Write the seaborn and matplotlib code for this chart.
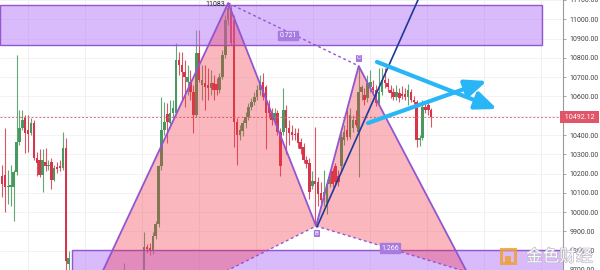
import numpy as np
import pandas as pd
import matplotlib
matplotlib.use("Agg")
import matplotlib.pyplot as plt
import seaborn as sns
from matplotlib.patches import Rectangle, Polygon, FancyArrowPatch, ArrowStyle
import matplotlib.patheffects as pe
import matplotlib.transforms as mtransforms

# ---------------- data (candles, index = bar number) ----------------
opens = [
    10190, 10195, 10128, 10128, 10128, 10206, 10366, 10438, 10490, 10428,
    10412, 10464, 10283, 10272, 10195, 10262, 10237, 10262, 10169, 10236,
    10240, 10230, 10335, 9730,
    9690, 9620, 9600, 9640, 9590, 9560, 9600, 9580, 9620, 9650,
    9610, 9590, 9630, 9660, 9640, 9670, 9650, 9620, 9640, 9670,
    9650, 9660, 9640, 9670, 9660,
    9652, 9818, 9812, 9797, 9875, 9937, 10237, 10428, 10510, 10464,
    10516, 10516, 10790, 10764, 10728, 10676, 10676, 10624, 10505, 10826,
    10661, 10671, 10661, 10645, 10671, 10666, 10635, 10700, 10816, 10997,
    11059, 10997, 10469, 10402, 10423, 10464, 10495, 10547, 10573, 10599,
    10635, 10676, 10650, 10557, 10516, 10480, 10516, 10418, 10418, 10531,
    10438, 10418, 10407, 10412, 10366, 10340, 10272, 10257, 10133, 10159,
    10154, 10097, 10061, 10050, 10144, 10211, 10237, 10185, 10237, 10376,
    10428, 10392, 10438, 10480, 10418, 10624, 10609, 10593, 10650, 10650,
    10635, 10567, 10624, 10686, 10671, 10635, 10624, 10599, 10619, 10614,
    10614, 10599, 10624, 10583, 10573, 10376, 10386, 10547, 10557, 10531,
]
highs = [
    10247, 10438, 10221, 10247, 10221, 10816, 10531, 10531, 10505, 10505,
    10490, 10480, 10314, 10325, 10325, 10335, 10272, 10283, 10247, 10262,
    10270, 10418, 10387, 9800,
    9705, 9650, 9660, 9660, 9610, 9630, 9620, 9650, 9680, 9670,
    9640, 9660, 9690, 9700, 9690, 9695, 9680, 9660, 9735, 9690,
    9690, 9680, 9700, 9690, 9700,
    9895, 9833, 9840, 9895, 9952, 10247, 10599, 10573, 10567, 10583,
    10583, 10878, 10831, 10831, 10790, 10764, 10738, 10661, 10945, 10945,
    10764, 10764, 10748, 10738, 10712, 10697, 10723, 10841, 11022, 11084,
    11074, 11022, 10490, 10454, 10480, 10521, 10567, 10593, 10624, 10661,
    10712, 10723, 10661, 10583, 10542, 10542, 10531, 10438, 10645, 10557,
    10480, 10454, 10438, 10438, 10387, 10361, 10290, 10283, 10211, 10443,
    10180, 10154, 10221, 10169, 10221, 10231, 10257, 10221, 10412, 10454,
    10531, 10542, 10505, 10531, 10755, 10661, 10645, 10712, 10738, 10686,
    10661, 10748, 10748, 10748, 10697, 10661, 10645, 10661, 10645, 10655,
    10645, 10666, 10640, 10600, 10583, 10402, 10583, 10573, 10573, 10542,
]
lows = [
    10081, 9999, 10040, 10030, 9952, 10195, 10350, 10428, 10309, 10314,
    10402, 10272, 10185, 10180, 10107, 10211, 10221, 10118, 10159, 10205,
    10211, 10221, 9700, 9680,
    9590, 9560, 9570, 9550, 9520, 9540, 9550, 9560, 9600, 9590,
    9560, 9570, 9610, 9620, 9620, 9630, 9600, 9600, 9630, 9630,
    9630, 9620, 9630, 9640, 9640,
    9640, 9790, 9776, 9785, 9860, 9921, 10221, 10402, 10361, 10438,
    10490, 10505, 10712, 10583, 10547, 10609, 10583, 10412, 10495, 10676,
    10583, 10531, 10583, 10609, 10583, 10609, 10620, 10690, 10800, 10970,
    10867, 10340, 10247, 10376, 10397, 10438, 10480, 10531, 10557, 10583,
    10609, 10583, 10325, 10490, 10454, 10459, 10402, 10185, 10400, 10299,
    10350, 10376, 10376, 10335, 10299, 10257, 10230, 10066, 10118, 9940,
    10030, 10040, 10030, 9988, 10128, 10128, 10138, 10138, 10211, 10350,
    10376, 10380, 10418, 10440, 10180, 10583, 10557, 10573, 10624, 10609,
    10552, 10552, 10609, 10645, 10624, 10593, 10583, 10583, 10573, 10588,
    10583, 10557, 10570, 10560, 10340, 10345, 10376, 10516, 10505, 10443,
]
closes = [
    10144, 10128, 10138, 10140, 10206, 10366, 10438, 10480, 10412, 10407,
    10464, 10283, 10257, 10195, 10272, 10237, 10247, 10169, 10231, 10226,
    10230, 10335, 9745, 9760,
    9620, 9600, 9640, 9590, 9560, 9600, 9580, 9620, 9650, 9610,
    9590, 9630, 9660, 9640, 9670, 9650, 9620, 9640, 9670, 9650,
    9660, 9640, 9670, 9660, 9680,
    9818, 9807, 9797, 9875, 9937, 10237, 10428, 10469, 10469, 10516,
    10540, 10790, 10764, 10728, 10702, 10702, 10624, 10505, 10826, 10686,
    10686, 10650, 10645, 10671, 10635, 10635, 10700, 10816, 10997, 11059,
    10878, 10469, 10402, 10428, 10464, 10495, 10547, 10573, 10599, 10635,
    10676, 10599, 10516, 10516, 10480, 10516, 10418, 10237, 10531, 10438,
    10412, 10402, 10402, 10361, 10325, 10272, 10250, 10102, 10159, 10144,
    10092, 10061, 10102, 10144, 10180, 10144, 10154, 10154, 10392, 10418,
    10392, 10505, 10480, 10454, 10624, 10650, 10583, 10671, 10676, 10635,
    10567, 10624, 10686, 10671, 10650, 10619, 10599, 10624, 10593, 10604,
    10599, 10635, 10583, 10573, 10376, 10386, 10547, 10531, 10531, 10492.12,
]
last_price = 10492.12

# harmonic pattern points X, A, B, C, D (bar index, price)
pattern_names = ["X", "A", "B", "C", "D"]
pattern_x = [21.7, 78.0, 108.3, 123.0, 160.3]
pattern_y = [9275, 11084, 9928, 10758, 9690]
ratio_labels = ["0.721", "1.266"]
ratio_x = [98.6, 133.8]
ratio_y = [10918, 9814]
peak_label = "11083"

# zones (price ranges)
top_zone = (10867, 11074)
bottom_zone = (9600, 9804)

# trend line and arrows
blue_x = [108.6, 146.1]
blue_y = [9923, 11190]
arrow_down = [(129.3, 10779), (170.7, 10535)]
arrow_up = [(126.2, 10462), (167.2, 10680)]

y_ticks = list(range(9700, 11101, 100))

# ---------------- styling ----------------
sns.set_theme(style="white")
plt.rcParams["font.family"] = ["Roboto", "DejaVu Sans"]

GREEN = "#47995f"
RED = "#d6364b"
PURPLE = "#9256d0"
PINK = (242/255, 54/255, 69/255, 0.35)
BOXFACE = (180/255, 120/255, 250/255, 0.5)
CYAN = "#29b6f6"

fig = plt.figure(figsize=(6, 2.7), dpi=100)
ax = fig.add_axes([0, 0, 563/600, 1])
ax.set_facecolor("white")

n = len(opens)
idx = np.arange(n)
o = np.array(opens, float); c = np.array(closes, float)
h = np.array(highs, float); l = np.array(lows, float)
up = c >= o
cols = np.where(up, GREEN, RED)

x0, x1 = -0.69, 193.45
ax.set_xlim(x0, x1)
ax.set_ylim(9700, 11100)

# grid
for gx in np.arange(8.97, x1, 19.66):
    ax.axvline(gx, color="#eeeeee", lw=0.6, zorder=0)
for gy in y_ticks:
    ax.axhline(gy, color="#f1f1f1", lw=0.6, zorder=0)

# candles
ax.vlines(idx, l, h, colors=cols, lw=0.8, alpha=0.85, zorder=2)
bottom = np.minimum(o, c)
height = np.maximum(np.abs(c - o), 5)
ax.bar(idx, height, bottom=bottom, width=0.85, color=cols, linewidth=0, zorder=2.5)

# zones
ax.add_patch(Rectangle((x0, top_zone[0]), 186.2 - x0, top_zone[1] - top_zone[0],
                       facecolor=BOXFACE, edgecolor=PURPLE, lw=1.0, zorder=3))
ax.add_patch(Rectangle((24.1, bottom_zone[0]), 200 - 24.1, bottom_zone[1] - bottom_zone[0],
                       facecolor=BOXFACE, edgecolor=PURPLE, lw=1.0, zorder=3))

# pattern fills
P = list(zip(pattern_x, pattern_y))
ax.add_patch(Polygon([P[0], P[1], P[2]], closed=True, facecolor=PINK, edgecolor="none", zorder=4))
ax.add_patch(Polygon([P[2], P[3], P[4]], closed=True, facecolor=PINK, edgecolor="none", zorder=4))

# pattern legs
pat = pd.DataFrame({"x": pattern_x, "y": pattern_y})
sns.lineplot(data=pat, x="x", y="y", sort=False, estimator=None, color=PURPLE,
             lw=1.3, ax=ax, zorder=5)
for a, b in [(0, 2), (1, 3), (2, 4)]:
    ax.plot([pattern_x[a], pattern_x[b]], [pattern_y[a], pattern_y[b]],
            color=PURPLE, lw=1.0, ls=(0, (2, 2)), zorder=5)

# labels
lbl_box = dict(boxstyle="square,pad=0.15", fc="#a77be0", ec="#a77be0")
for t, xx, yy in zip(ratio_labels, ratio_x, ratio_y):
    ax.text(xx, yy, t, fontsize=5, color="white", ha="center", va="center",
            bbox=lbl_box, zorder=8)
ax.text(pattern_x[3], pattern_y[3] + 30, "C", fontsize=4.5, color="white", ha="center",
        va="bottom", bbox=dict(boxstyle="square,pad=0.1", fc="#a77be0", ec=PURPLE, lw=0.5), zorder=8)
ax.text(pattern_x[2], pattern_y[2] - 25, "B", fontsize=4.5, color="white", ha="center",
        va="top", bbox=dict(boxstyle="square,pad=0.1", fc="#a77be0", ec=PURPLE, lw=0.5), zorder=8)
ax.text(pattern_x[1] - 1.0, pattern_y[1] - 5, peak_label, fontsize=5, color="#222222",
        ha="right", va="center", zorder=8)

# current price line
ax.axhline(last_price, color="#e06a78", lw=0.7, ls=(0, (2, 2)), zorder=3.5)

# blue trend line
sns.lineplot(x=blue_x, y=blue_y, color="#1d3a9a", lw=1.2, ax=ax, zorder=6)

# arrows
style = ArrowStyle("-|>", head_length=1.3, head_width=0.55)
for (a, b) in [arrow_down, arrow_up]:
    ar = FancyArrowPatch(a, b, arrowstyle=style, mutation_scale=10, color=CYAN,
                         lw=3.0, zorder=7, clip_on=False, shrinkA=0, shrinkB=0)
    ax.add_patch(ar)

# axes (the 10500 label sits under the price tag, as in the reference)
ax.set_xticks([])
ax.set_xlabel(""); ax.set_ylabel("")
ax.yaxis.tick_right()
ax.set_yticks(y_ticks)
ax.set_yticklabels(["" if v == 10500 else f"{v:.2f}" for v in y_ticks])
ax.tick_params(axis="y", length=2.2, width=0.6, color="#999999", labelsize=5,
               labelcolor="#444444", pad=2.5, right=True, left=False)
for s in ["left", "top", "bottom"]:
    ax.spines[s].set_visible(False)
ax.spines["right"].set_color("#9a9a9a")
ax.spines["right"].set_linewidth(0.8)
if ax.get_legend():
    ax.get_legend().remove()

# price tag
trans = mtransforms.blended_transform_factory(ax.transAxes, ax.transData)
ax.text(1.0, last_price, " 10492.12 ", transform=trans, fontsize=5.2, color="white",
        ha="left", va="center", clip_on=False, zorder=9,
        bbox=dict(boxstyle="square,pad=0.35", fc="#e05567", ec="none"))

# watermark
fig.patches.append(Rectangle((501/600, 1 - 263/270), 14/600, 14/270, transform=fig.transFigure,
                             facecolor="none", edgecolor="#f0a030", lw=2.2, alpha=0.85))
fig.patches.append(Rectangle((505/600, 1 - 263/270), 6/600, 7/270, transform=fig.transFigure,
                             facecolor="#f0a030", edgecolor="none", alpha=0.85))
fig.text(526/600, 1 - 257/270, "金色财经", fontsize=12, color="white", alpha=0.95,
         family=["Noto Sans CJK SC", "DejaVu Sans"], ha="left", va="center",
         path_effects=[pe.withStroke(linewidth=1.0, foreground="#bdb6c6")])

fig.savefig("out.png", dpi=100)
